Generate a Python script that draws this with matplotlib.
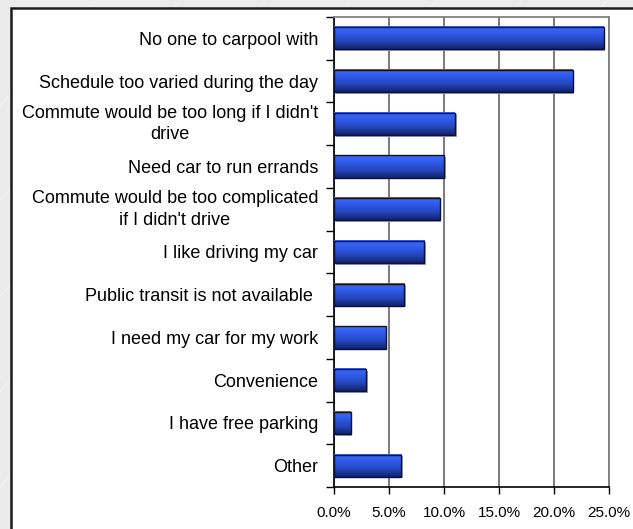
import numpy as np
import matplotlib
matplotlib.use("Agg")
import matplotlib.pyplot as plt
from matplotlib.colors import LinearSegmentedColormap
from matplotlib.patches import Rectangle
from matplotlib.lines import Line2D
from matplotlib.transforms import offset_copy

plt.rcParams['font.family'] = ['Liberation Sans', 'DejaVu Sans']

# reasons for driving alone, top to bottom
reasons = [
    "No one to carpool with",
    "Schedule too varied during the day",
    "Commute would be too long if I didn't\ndrive",
    "Need car to run errands",
    "Commute would be too complicated\nif I didn't drive",
    "I like driving my car",
    "Public transit is not available ",
    "I need my car for my work",
    "Convenience",
    "I have free parking",
    "Other",
]
# share of respondents, percent
shares = [24.5, 21.7, 11.0, 10.0, 9.6, 8.2, 6.4, 4.7, 2.9, 1.5, 6.1]
xticks = [0, 5, 10, 15, 20, 25]
xtick_labels = ["0.0%", "5.0%", "10.0%", "15.0%", "20.0%", "25.0%"]

fig = plt.figure(figsize=(6.33, 5.29), dpi=100)
fig.patch.set_facecolor('#EBEBEB')

# faint diagonal streaks on the slide background
for x0 in np.arange(-0.6, 1.1, 0.135):
    fig.add_artist(Line2D([x0, x0 + 0.75], [0, 1.0], transform=fig.transFigure,
                          color='#F2F2F2', lw=0.8, zorder=0))

# white panel with dark border running off the right/bottom edge
fig.add_artist(Rectangle((11 / 633, -0.05), 1.2, 1.05 - 7.5 / 529,
                         transform=fig.transFigure, facecolor='white',
                         edgecolor='#1A1A1A', lw=1.8, zorder=1))

ax = fig.add_axes([334 / 633, 1 - 487 / 529, (609 - 334) / 633, (487 - 17) / 529])
ax.set_zorder(2)
ax.set_facecolor('white')

y = np.arange(len(reasons))
h = 0.52

# drop shadow under each bar
shadow_tr = offset_copy(ax.transData, fig=fig, x=1.6, y=-1.6, units='dots')
ax.barh(y, shares, height=h, color='#A8A8A8', lw=0, transform=shadow_tr, zorder=2)

# vertical gradient fill, bright blue on top to navy at the bottom
cmap = LinearSegmentedColormap.from_list('bar', ['#3A6CFF', '#2F5AE6', '#2545B8', '#142266'])
grad = np.linspace(0, 1, 64).reshape(-1, 1)
for yi, v in zip(y, shares):
    ax.imshow(grad, cmap=cmap, aspect='auto', interpolation='bilinear',
              extent=[0, v, yi + h / 2, yi - h / 2], origin='upper', zorder=3)

ax.barh(y, shares, height=h, facecolor='none', edgecolor='#0A1233', lw=1.0, zorder=4)

ax.set_xlim(0, 25)
ax.set_ylim(len(reasons) - 0.5, -0.5)

ax.set_xticks(xticks)
ax.set_xticklabels(xtick_labels, fontsize=11)
ax.tick_params(axis='x', direction='out', length=5, width=1, pad=8.5, color='black')
ax.xaxis.grid(True, color='#707070', lw=1.3, zorder=1)
ax.set_axisbelow(True)

# category ticks sit on the boundaries, labels between them
ax.set_yticks(np.arange(-0.5, len(reasons), 1.0))
ax.set_yticklabels([])
ax.tick_params(axis='y', which='major', direction='out', length=6, width=1, color='black')
ax.set_yticks(y, minor=True)
ax.set_yticklabels(reasons, minor=True, fontsize=13, multialignment='center',
                   linespacing=1.35)
ax.tick_params(axis='y', which='minor', length=0, pad=11.5)
# two-line labels centred on the bar as a block
for lbl in ax.get_yticklabels(minor=True):
    if '\n' in lbl.get_text():
        lbl.set_va('center')

for side in ['left', 'bottom']:
    ax.spines[side].set_color('black')
    ax.spines[side].set_linewidth(1.2)
for side in ['top', 'right']:
    ax.spines[side].set_color('#808080')
    ax.spines[side].set_linewidth(1.3)

fig.savefig('out.png', dpi=100, facecolor=fig.get_facecolor())
